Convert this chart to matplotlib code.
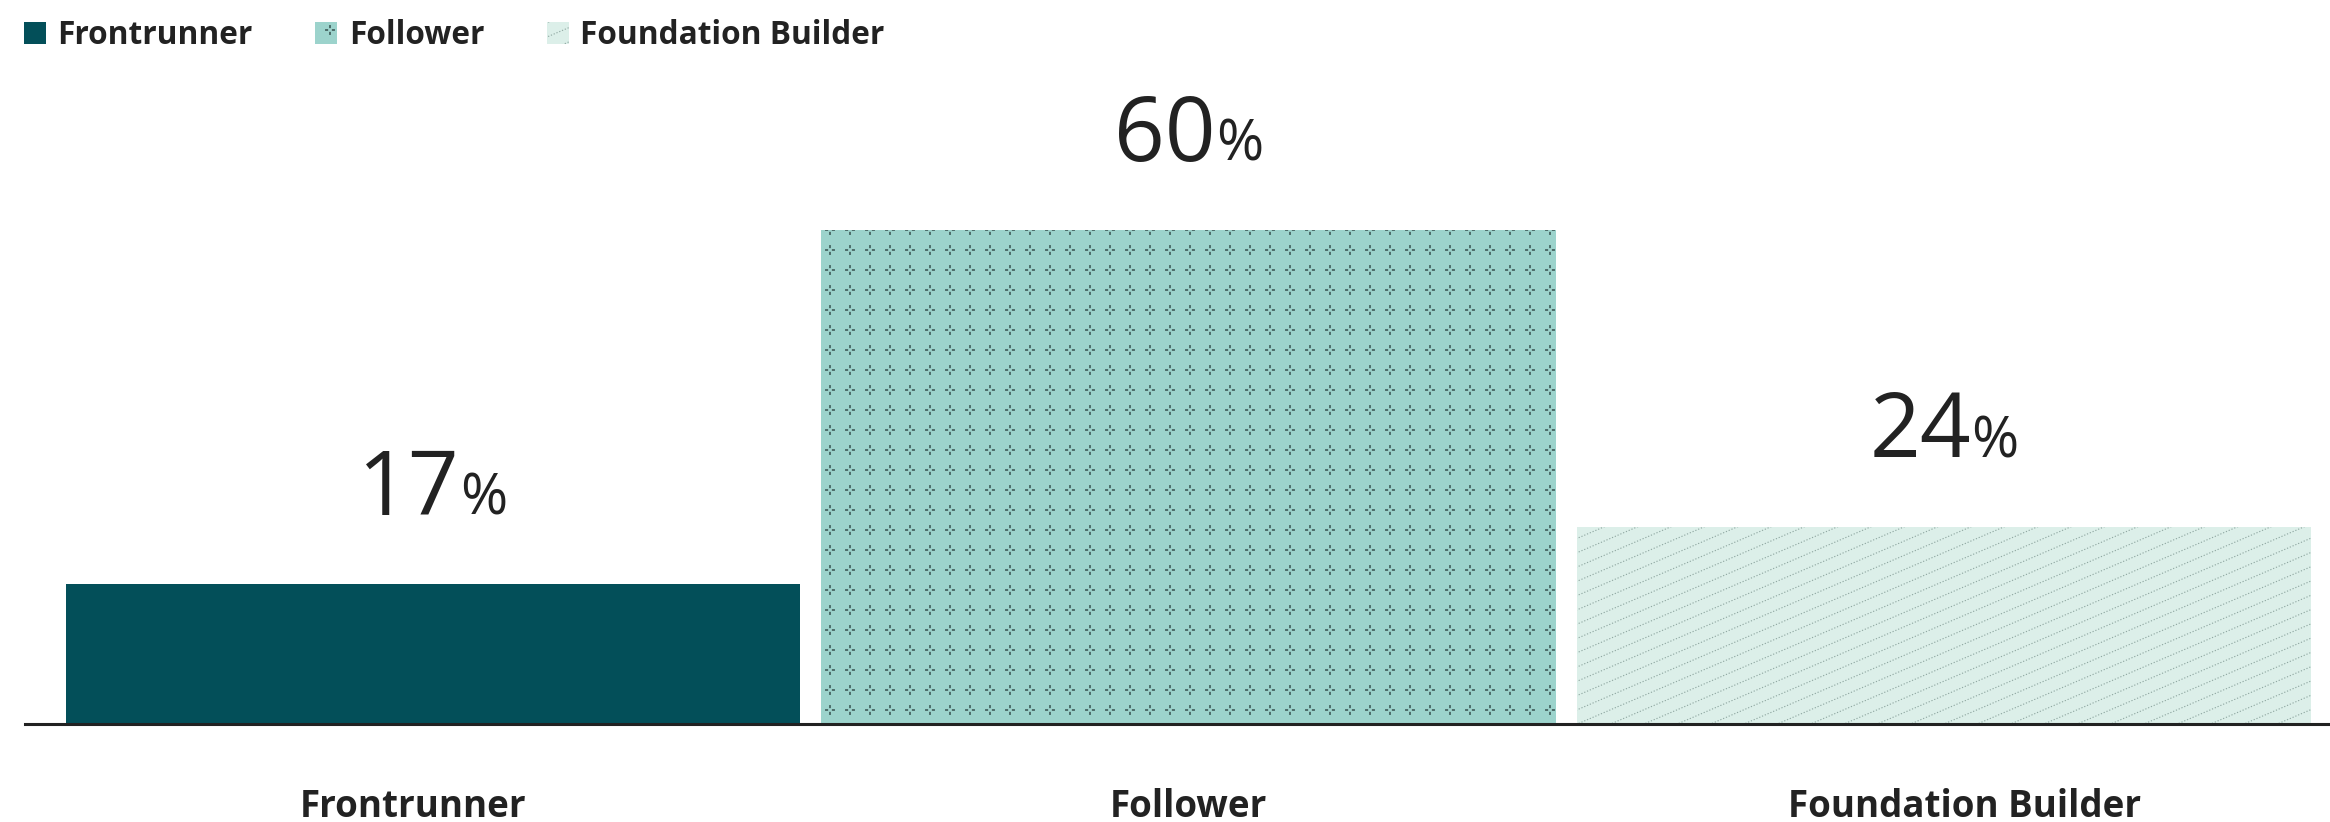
import warnings

import numpy as np
import matplotlib
matplotlib.use("Agg")
import matplotlib.pyplot as plt
from matplotlib import hatch as mhatch
from matplotlib.path import Path

warnings.filterwarnings("ignore", category=matplotlib.MatplotlibDeprecationWarning)

# data
categories = ["Frontrunner", "Follower", "Foundation Builder"]
values = [17, 60, 24]
colors = ["#034f59", "#9cd3cc", "#dcefe9"]
hatches = [None, "p", "d"]
hatch_colors = ["#034f59", "#0f1f1f", "#8fa7a1"]

ink = "#222222"


# short ticks around every node of a square grid ("p" in a hatch string)
class CrossTicks(mhatch.HatchPatternBase):
    def __init__(self, hatch, density):
        self.cells = hatch.count("p") * 5
        self.num_vertices = self.cells ** 2 * 8

    def set_vertices_and_codes(self, vertices, codes):
        c = (np.arange(self.cells) + 0.5) / self.cells
        cx, cy = np.meshgrid(c, c)
        cx, cy = cx.ravel(), cy.ravel()
        a, b = 0.024, 0.044
        segs = []
        for dx0, dy0, dx1, dy1 in [(0, a, 0, b), (0, -a, 0, -b), (a, 0, b, 0), (-a, 0, -b, 0)]:
            start = np.column_stack([cx + dx0, cy + dy0])
            end = np.column_stack([cx + dx1, cy + dy1])
            segs.append(np.stack([start, end], axis=1))
        vertices[:] = np.concatenate(segs).reshape(-1, 2)
        codes[0::2] = Path.MOVETO
        codes[1::2] = Path.LINETO


# dotted lines rising 3/7 ("d" in a hatch string)
class DottedSlope(mhatch.HatchPatternBase):
    def __init__(self, hatch, density):
        self.lines = hatch.count("d") * 7
        self.dots = 36
        self.num_vertices = self.lines * self.dots * 2

    def set_vertices_and_codes(self, vertices, codes):
        x = (np.arange(self.dots) + 0.5) / self.dots
        k = np.arange(self.lines)[:, None]
        y = (x[None, :] * 3 / 7 + k / self.lines) % 1.0
        xx = np.broadcast_to(x, y.shape).ravel()
        yy = y.ravel()
        d = 0.001
        seg = np.stack([np.column_stack([xx, yy]),
                        np.column_stack([xx + d, yy + d * 3 / 7])], axis=1)
        vertices[:] = seg.reshape(-1, 2)
        codes[0::2] = Path.MOVETO
        codes[1::2] = Path.LINETO


mhatch._hatch_types.extend([CrossTicks, DottedSlope])

plt.rcParams["font.family"] = ["Open Sans", "DejaVu Sans"]
plt.rcParams["hatch.linewidth"] = 0.8

fig = plt.figure(figsize=(23.3, 8.22), dpi=100)
ax = fig.add_axes([25 / 2330, 98 / 822, 2327 / 2330, 724 / 822])

x = np.arange(len(categories))
bars = []
for i in range(len(categories)):
    b = ax.bar(x[i], values[i], width=0.972, color=colors[i], hatch=hatches[i],
               edgecolor=hatch_colors[i], linewidth=0, label=categories[i])
    bars.append(b)

ax.set_xlim(-0.54, 2.54)
ax.set_ylim(0, 88)

for s in ["top", "left", "right"]:
    ax.spines[s].set_visible(False)
ax.spines["bottom"].set_color(ink)
ax.spines["bottom"].set_linewidth(2.2)
ax.set_xticks([])
ax.set_yticks([])

# category names under the axis
for i, name in enumerate(categories):
    ax.text((i + 0.5) / 3, -93 / 724, name, transform=ax.transAxes, ha="center",
            va="baseline", fontsize=26.5, fontweight="bold", color=ink)

# value labels: big number + smaller percent sign
labels = []
for b, v in zip(bars, values):
    rect = b.patches[0]
    cx = rect.get_x() + rect.get_width() / 2
    num = ax.annotate(str(v), xy=(cx, v), xytext=(0, 50), textcoords="offset points",
                      ha="left", va="baseline", fontsize=64, color=ink)
    pct = ax.annotate("%", xy=(cx, v), xytext=(0, 50), textcoords="offset points",
                      ha="left", va="baseline", fontsize=41, color=ink)
    labels.append((num, pct))

leg = fig.legend(handles=bars, labels=categories, loc="upper left",
                 bbox_to_anchor=(24 / 2330, 1 - 19 / 822), ncol=3, frameon=False,
                 prop={"size": 22.8, "weight": "bold"}, handlelength=0.7,
                 handleheight=0.7, handletextpad=0.36, columnspacing=1.97,
                 borderpad=0, borderaxespad=0)
for t in leg.get_texts():
    t.set_color(ink)

fig.canvas.draw()
r = fig.canvas.get_renderer()
for num, pct in labels:
    w1 = num.get_window_extent(r).width
    w2 = pct.get_window_extent(r).width
    gap = 0
    total = w1 + gap + w2
    num.xyann = (-total / 2 * 0.72, 50)
    pct.xyann = ((-total / 2 + w1 + gap) * 0.72, 50)

fig.savefig("out.png", dpi=100)
